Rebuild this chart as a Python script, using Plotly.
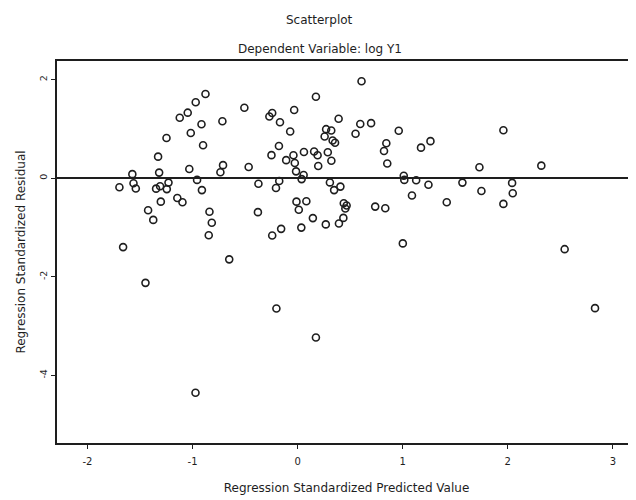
import plotly.graph_objects as go

# Regression Standardized Predicted Value
pred = [
    -0.877, -0.970, -1.046, -1.122, -0.915, -1.017, -1.248, -0.900, -0.716, -0.507,
    -1.328, -1.318, -1.573, -1.031, -0.710, -0.735, -0.466, -1.696, -1.562, -1.540,
    -1.347, -1.309, -1.245, -1.229, -0.957, -0.911, -1.302, -1.145, -1.096, -1.423,
    -1.374, -0.839, -0.817, -0.846, -1.661, -0.651, -0.373, -0.378, -0.242, -0.157,
    -0.206, -0.175, -0.249, -0.178, -0.269, -0.242, -0.168, -0.033, -0.071, 0.174,
    -0.109, -0.040, -0.027, -0.015, 0.060, 0.057, 0.038, 0.157, 0.190, 0.196,
    0.287, 0.321, 0.271, 0.320, 0.257, 0.333, 0.356, 0.390, -0.011, 0.011,
    0.083, 0.145, 0.035, 0.268, 0.393, 0.435, 0.307, 0.347, 0.407, 0.439,
    0.466, 0.454, 0.608, 0.596, 0.699, 0.551, 0.962, 0.844, 0.822, 0.853,
    1.174, 1.264, 1.010, 1.015, 1.128, 1.245, 1.088, 1.419, 1.568, 1.730,
    1.749, 1.958, 2.041, 2.047, 1.958, 2.319, 0.738, 0.834, 1.001, 2.541,
    -1.448, -0.202, 0.174, -0.972, 2.830,
]

# Regression Standardized Residual
resid = [
    1.710, 1.542, 1.331, 1.229, 1.095, 0.919, 0.817, 0.669, 1.156, 1.432,
    0.438, 0.114, 0.083, 0.189, 0.266, 0.122, 0.229, -0.183, -0.101, -0.207,
    -0.211, -0.162, -0.221, -0.089, -0.034, -0.241, -0.475, -0.400, -0.487, -0.649,
    -0.846, -0.680, -0.903, -1.156, -1.398, -1.647, -0.112, -0.688, -1.164, -1.028,
    -0.197, -0.055, 0.469, 0.655, 1.254, 1.325, 1.136, 1.385, 0.949, 1.655,
    0.367, 0.467, 0.310, 0.140, 0.533, 0.067, -0.018, 0.542, 0.467, 0.249,
    0.529, 0.355, 0.996, 0.970, 0.848, 0.767, 0.720, 1.209, -0.475, -0.639,
    -0.467, -0.809, -1.002, -0.937, -0.919, -0.805, -0.085, -0.241, -0.170, -0.507,
    -0.552, -0.613, 1.968, 1.101, 1.118, 0.903, 0.963, 0.710, 0.554, 0.300,
    0.621, 0.753, 0.051, -0.034, -0.041, -0.132, -0.349, -0.487, -0.089, 0.223,
    -0.258, 0.974, -0.095, -0.304, -0.521, 0.256, -0.576, -0.609, -1.323, -1.440,
    -2.124, -2.645, -3.233, -4.355, -2.637,
]

x_ticks = [-2, -1, 0, 1, 2, 3]
y_ticks = [-4, -2, 0, 2]

title_text = "Scatterplot"
subtitle_text = "Dependent Variable: log Y1"
x_title = "Regression Standardized Predicted Value"
y_title = "Regression Standardized Residual"

FONT = "DejaVu Sans"
INK = "#1e1e1e"

fig = go.Figure()
fig.add_trace(go.Scatter(
    x=pred, y=resid, mode="markers",
    marker=dict(symbol="circle-open", size=7, color=INK, line=dict(width=1.6, color=INK)),
    showlegend=False, hoverinfo="skip",
))

# page body has an 8px default margin, so the figure is 8px smaller on each used side
fig.update_layout(
    width=628, height=492,
    margin=dict(l=49, r=0, t=53, b=57, autoexpand=False),
    paper_bgcolor="white", plot_bgcolor="white",
    font=dict(family=FONT, color=INK, size=12),
    annotations=[
        dict(text=title_text, xref="paper", yref="paper", x=0.454, y=1.107,
             xanchor="center", yanchor="middle", showarrow=False,
             font=dict(family=FONT, size=12, color=INK)),
        dict(text=subtitle_text, xref="paper", yref="paper", x=0.454, y=1.031,
             xanchor="center", yanchor="middle", showarrow=False,
             font=dict(family=FONT, size=12, color=INK)),
    ],
)

fig.update_xaxes(
    range=[-2.29, 3.22], tickvals=x_ticks, ticktext=[str(v) for v in x_ticks],
    showgrid=False, zeroline=False,
    showline=True, linecolor=INK, linewidth=1.5, mirror=True,
    ticks="outside", ticklen=4, tickwidth=1, tickcolor=INK,
    ticklabelstandoff=4,
    tickfont=dict(family=FONT, size=10, color=INK),
    title=dict(text=x_title, font=dict(family=FONT, size=12, color=INK), standoff=18),
    automargin=False,
)
fig.update_yaxes(
    range=[-5.375, 2.38], tickvals=y_ticks, ticktext=[str(v) for v in y_ticks],
    showgrid=False,
    zeroline=True, zerolinecolor=INK, zerolinewidth=1.5,
    showline=True, linecolor=INK, linewidth=1.5, mirror=False,
    ticks="outside", ticklen=4, tickwidth=1, tickcolor=INK,
    tickangle=-90,
    tickfont=dict(family=FONT, size=9.5, color=INK),
    title=dict(text=y_title, font=dict(family=FONT, size=12, color=INK), standoff=10),
    automargin=False,
)

fig.write_html("out.html")
